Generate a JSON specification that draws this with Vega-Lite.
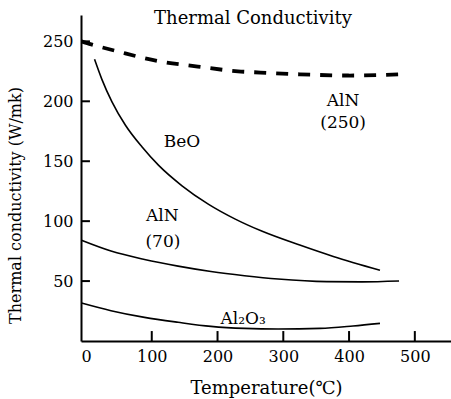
{
  "$schema": "https://vega.github.io/schema/vega-lite/v6.json",
  "width": 370,
  "height": 326,
  "autosize": "none",
  "padding": {"left": 81, "top": 15, "right": 0, "bottom": 58},
  "background": "white",
  "title": {
    "text": "Thermal Conductivity",
    "font": "DejaVu Serif",
    "fontSize": 18,
    "fontWeight": "normal",
    "color": "black",
    "anchor": "middle",
    "dx": -13,
    "offset": -13
  },
  "config": {
    "view": {"stroke": null},
    "axis": {
      "domainColor": "black",
      "domainWidth": 2,
      "ticks": false,
      "tickSize": 0,
      "grid": false,
      "labelFont": "DejaVu Serif",
      "labelFontSize": 16,
      "labelColor": "black",
      "titleFont": "DejaVu Serif",
      "titleFontSize": 16,
      "titleFontWeight": "normal",
      "titleColor": "black"
    }
  },
  "datasets": {
    "curves": [
      {"series": "AlN250", "T": -7, "k": 250},
      {"series": "AlN250", "T": 8, "k": 247.5},
      {"series": "AlN250", "T": 49, "k": 241.5},
      {"series": "AlN250", "T": 110, "k": 233.5},
      {"series": "AlN250", "T": 170, "k": 229},
      {"series": "AlN250", "T": 231, "k": 225},
      {"series": "AlN250", "T": 265, "k": 224},
      {"series": "AlN250", "T": 325, "k": 222.5},
      {"series": "AlN250", "T": 401, "k": 221.5},
      {"series": "AlN250", "T": 478, "k": 222.5},
      {"series": "BeO", "T": 13, "k": 235},
      {"series": "BeO", "T": 24, "k": 218.5},
      {"series": "BeO", "T": 39.5, "k": 199.5},
      {"series": "BeO", "T": 60, "k": 180},
      {"series": "BeO", "T": 85, "k": 162},
      {"series": "BeO", "T": 110.5, "k": 146.5},
      {"series": "BeO", "T": 146, "k": 129.5},
      {"series": "BeO", "T": 186.5, "k": 114},
      {"series": "BeO", "T": 227, "k": 101.7},
      {"series": "BeO", "T": 268, "k": 91.5},
      {"series": "BeO", "T": 325, "k": 80},
      {"series": "BeO", "T": 376, "k": 70.5},
      {"series": "BeO", "T": 447, "k": 59},
      {"series": "AlN70", "T": -7, "k": 84},
      {"series": "AlN70", "T": 38, "k": 75},
      {"series": "AlN70", "T": 89, "k": 68},
      {"series": "AlN70", "T": 140, "k": 62.5},
      {"series": "AlN70", "T": 190, "k": 58},
      {"series": "AlN70", "T": 241, "k": 54.5},
      {"series": "AlN70", "T": 292, "k": 51.7},
      {"series": "AlN70", "T": 366, "k": 49.5},
      {"series": "AlN70", "T": 420, "k": 49.3},
      {"series": "AlN70", "T": 476, "k": 50},
      {"series": "Al2O3", "T": -7, "k": 31.7},
      {"series": "Al2O3", "T": 38, "k": 25.3},
      {"series": "Al2O3", "T": 89, "k": 19.7},
      {"series": "Al2O3", "T": 140, "k": 15.6},
      {"series": "Al2O3", "T": 190, "k": 12.2},
      {"series": "Al2O3", "T": 241, "k": 10.5},
      {"series": "Al2O3", "T": 292, "k": 10},
      {"series": "Al2O3", "T": 356, "k": 10.5},
      {"series": "Al2O3", "T": 406, "k": 12.5},
      {"series": "Al2O3", "T": 447, "k": 14.7}
    ],
    "labels": [
      {"text": "AlN", "T": 391, "k": 200},
      {"text": "(250)", "T": 391, "k": 182},
      {"text": "BeO", "T": 146, "k": 166},
      {"text": "AlN", "T": 116, "k": 104},
      {"text": "(70)", "T": 117, "k": 83},
      {"text": "Al₂O₃", "T": 239, "k": 18}
    ],
    "xticks": [
      {"T": 100, "k0": 0, "k1": 8.3},
      {"T": 200, "k0": 0, "k1": 8.3},
      {"T": 300, "k0": 0, "k1": 8.3},
      {"T": 400, "k0": 0, "k1": 8.3},
      {"T": 500, "k0": 0, "k1": 8.3}
    ],
    "yticks": [
      {"k": 50, "T0": -7.6, "T1": 6},
      {"k": 100, "T0": -7.6, "T1": 6},
      {"k": 150, "T0": -7.6, "T1": 6},
      {"k": 200, "T0": -7.6, "T1": 6},
      {"k": 250, "T0": -7.6, "T1": 6}
    ]
  },
  "layer": [
    {
      "data": {"name": "curves"},
      "transform": [{"filter": "datum.series !== 'AlN250'"}],
      "mark": {"type": "line", "color": "black", "strokeWidth": 1.6, "interpolate": "monotone"},
      "encoding": {
        "x": {
          "field": "T",
          "type": "quantitative",
          "scale": {"domain": [-7.6, 555], "nice": false, "zero": false},
          "axis": {
            "values": [0, 100, 200, 300, 400, 500],
            "title": "Temperature(℃)",
            "titleFontSize": 18,
            "labelPadding": 7,
            "titlePadding": 15
          }
        },
        "y": {
          "field": "k",
          "type": "quantitative",
          "scale": {"domain": [0, 272], "nice": false},
          "axis": {
            "values": [50, 100, 150, 200, 250],
            "title": "Thermal conductivity (W/mk)",
            "labelPadding": 8,
            "titleX": -66,
            "titleY": 190,
            "titleBaseline": "middle",
            "titleAlign": "center",
            "titleAngle": -90
          }
        },
        "detail": {"field": "series"}
      }
    },
    {
      "data": {"name": "xticks"},
      "mark": {"type": "rule", "color": "black", "strokeWidth": 2},
      "encoding": {
        "x": {"field": "T", "type": "quantitative"},
        "y": {"field": "k0", "type": "quantitative"},
        "y2": {"field": "k1"}
      }
    },
    {
      "data": {"name": "yticks"},
      "mark": {"type": "rule", "color": "black", "strokeWidth": 2},
      "encoding": {
        "y": {"field": "k", "type": "quantitative"},
        "x": {"field": "T0", "type": "quantitative"},
        "x2": {"field": "T1"}
      }
    },
    {
      "data": {"name": "curves"},
      "transform": [{"filter": "datum.series === 'AlN250'"}],
      "mark": {"type": "line", "color": "black", "strokeWidth": 3.8, "strokeDash": [12, 10], "interpolate": "monotone"},
      "encoding": {
        "x": {"field": "T", "type": "quantitative"},
        "y": {"field": "k", "type": "quantitative"}
      }
    },
    {
      "data": {"name": "labels"},
      "mark": {"type": "text", "font": "DejaVu Serif", "fontSize": 17, "color": "black", "align": "center", "baseline": "middle"},
      "encoding": {
        "x": {"field": "T", "type": "quantitative"},
        "y": {"field": "k", "type": "quantitative"},
        "text": {"field": "text"}
      }
    }
  ]
}
